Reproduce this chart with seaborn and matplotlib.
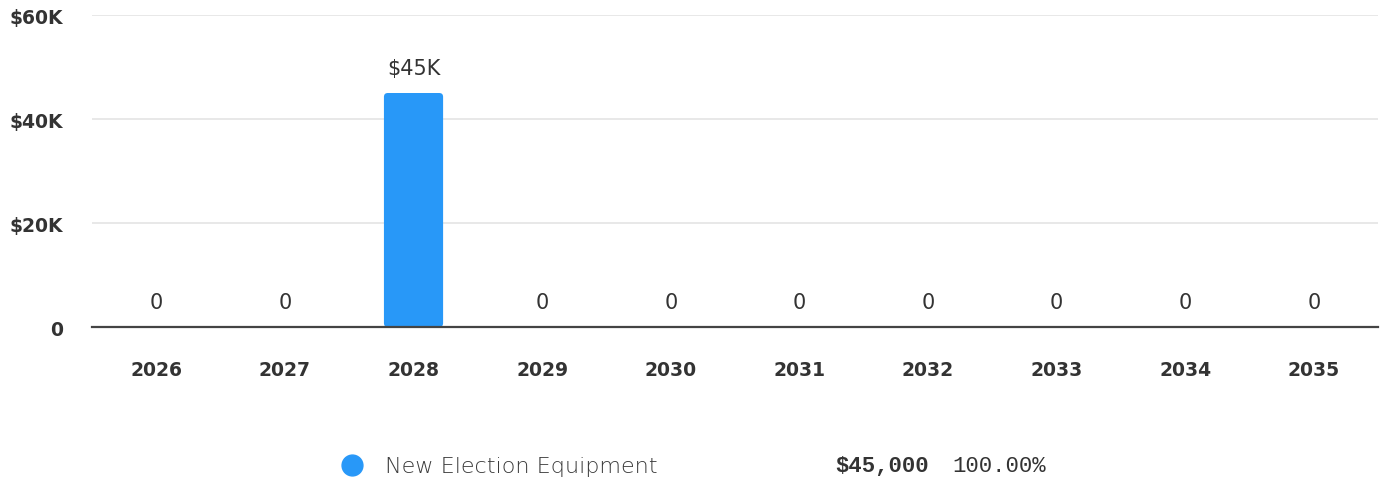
import pandas as pd
import numpy as np
import matplotlib
matplotlib.use("Agg")
import matplotlib.pyplot as plt
from matplotlib.lines import Line2D
from matplotlib.patches import FancyBboxPatch
import seaborn as sns

sns.set_style("white")
plt.rcParams['font.family'] = ['DejaVu Sans']

# Data
years = ['2026', '2027', '2028', '2029', '2030', '2031', '2032', '2033', '2034', '2035']
values = [0, 0, 45000, 0, 0, 0, 0, 0, 0, 0]
bar_labels = ['0', '0', '$45K', '0', '0', '0', '0', '0', '0', '0']
y_ticks = [0, 20000, 40000, 60000]
y_tick_labels = ['0', '$20K', '$40K', '$60K']
series_name = 'New Election Equipment'
series_total = '$45,000'
series_share = '100.00%'

bar_color = '#2898f8'
text_color = '#333333'

df = pd.DataFrame({'year': years, 'value': values})

fig = plt.figure(figsize=(13.83, 4.85), dpi=100)
ax = fig.add_axes([0.0665, 0.3237, 0.93, 0.6433])

sns.barplot(data=df, x='year', y='value', color=bar_color, width=0.46,
            saturation=1, ax=ax, zorder=3)

# rounded corners on the bars (x unit = 128.6 px, y: 60000 per 312 px)
aspect = (60000 / 312) / (1 / 128.6)
for p in list(ax.patches):
    if p.get_height() > 0:
        r = FancyBboxPatch((p.get_x(), p.get_y()), p.get_width(), p.get_height(),
                           boxstyle="round,pad=0,rounding_size=0.03",
                           mutation_aspect=aspect,
                           fc=bar_color, ec='none', zorder=3)
        ax.add_patch(r)
    p.set_visible(False)

ax.set_xlim(-0.5, 9.5)
ax.set_ylim(0, 60000)
ax.set_yticks(y_ticks)
ax.set_yticklabels(y_tick_labels, fontsize=13.5, fontweight='bold', color=text_color)
ax.tick_params(axis='y', length=0, pad=21)
ax.tick_params(axis='x', length=0, pad=24, labelsize=13.5, labelcolor=text_color)
for t in ax.get_xticklabels():
    t.set_fontweight('bold')
ax.set_xlabel('')
ax.set_ylabel('')

ax.yaxis.grid(True, color='#e6e6e6', linewidth=1.3, zorder=0)
ax.set_axisbelow(True)
for s in ['top', 'right', 'left']:
    ax.spines[s].set_visible(False)
ax.spines['bottom'].set_color('#444444')
ax.spines['bottom'].set_linewidth(1.6)
ax.spines['bottom'].set_zorder(4)

for i, (v, lab) in enumerate(zip(values, bar_labels)):
    ax.annotate(lab, (i, v), xytext=(0, 11), textcoords='offset points',
                ha='center', va='bottom', fontsize=15, color=text_color)

# legend row
fig.add_artist(Line2D([352 / 1383], [1 - 466 / 485], marker='o', markersize=15,
                      color=bar_color, linestyle='none', transform=fig.transFigure))
fig.text(385 / 1383, 1 - 467 / 485, series_name, fontsize=16, color='#3a3a3a',
         fontweight='light', va='center', ha='left')
fig.text(835 / 1383, 1 - 467 / 485, series_total, fontsize=16, color=text_color,
         family='Liberation Mono', fontweight='bold', va='center', ha='left')
fig.text(952 / 1383, 1 - 467 / 485, series_share, fontsize=16, color=text_color,
         family='Liberation Mono', va='center', ha='left')

fig.savefig('out.png', dpi=100)
